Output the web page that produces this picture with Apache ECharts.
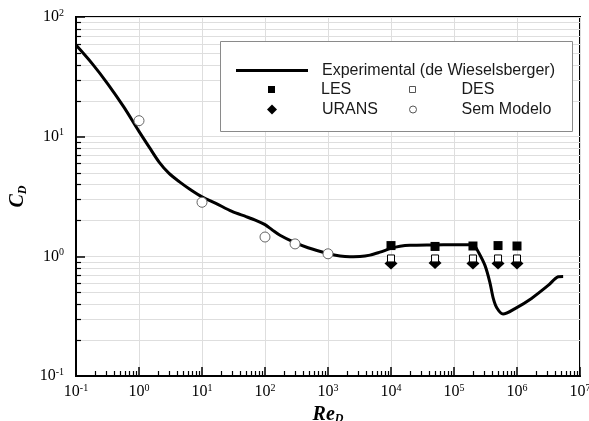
<!DOCTYPE html>
<html><head><meta charset="utf-8">
<script src="https://cdn.jsdelivr.net/npm/echarts@6/dist/echarts.min.js"></script>
<style>html,body{margin:0;padding:0;background:#fff}#c{width:589px;height:421px}</style>
</head><body><div id="c"></div>
<script>
// ---- data ----
const expRe = [0.1, 0.182, 0.323, 0.576, 1.0, 1.47, 2.1, 3.0, 4.4, 6.5, 10, 16.6, 29.9, 51, 74.6, 100, 129, 173, 282, 482, 1000, 1550, 2230, 3220, 4640, 6690, 1e4, 1.39e4, 2e4, 4.6e4, 1e5, 1.85e5, 2.1e5, 2.43e5, 3.1e5, 3.7e5, 4.2e5, 4.8e5, 6.0e5, 9.3e5, 1.7e6, 3.16e6, 4.5e6, 5.4e6];
const expCd = [58.3, 40.6, 27.4, 17.65, 11.07, 8.09, 6.10, 4.93, 4.19, 3.62, 3.14, 2.77, 2.37, 2.14, 1.98, 1.84, 1.67, 1.50, 1.32, 1.18, 1.057, 1.008, 0.994, 0.997, 1.023, 1.084, 1.165, 1.212, 1.236, 1.245, 1.25, 1.25, 1.23, 1.09, 0.84, 0.61, 0.445, 0.37, 0.33, 0.366, 0.445, 0.574, 0.675, 0.68];
const lesRe = [1e4, 5e4, 2e5, 5e5, 1e6];
const lesCd = [1.23, 1.21, 1.22, 1.23, 1.22];
const desRe = [1e4, 5e4, 2e5, 5e5, 1e6];
const desCd = [0.96, 0.96, 0.96, 0.96, 0.96];
const uransRe = [1e4, 5e4, 2e5, 5e5, 1e6];
const uransCd = [0.87, 0.88, 0.87, 0.87, 0.87];
const semRe = [1, 10, 100, 300, 1000];
const semCd = [13.6, 2.83, 1.45, 1.27, 1.05];
const xTickExp = [-1, 0, 1, 2, 3, 4, 5, 6, 7];
const yTickExp = [-1, 0, 1, 2];
const minorMantissas = [2, 3, 4, 5, 6, 7, 8, 9];
const seriesNames = ['Experimental (de Wieselsberger)', 'LES', 'URANS', 'DES', 'Sem Modelo'];

// ---- helpers ----
const zip = (a, b) => a.map((v, i) => [v, b[i]]);
const xMinor = [], yMinor = [];
xTickExp.slice(0, -1).forEach(e => minorMantissas.forEach(m => xMinor.push([m * Math.pow(10, e), 0.1])));
yTickExp.slice(0, -1).forEach(e => minorMantissas.forEach(m => yMinor.push([0.1, m * Math.pow(10, e)])));

const serif = '"Liberation Serif","DejaVu Serif",serif';
const sans = '"Liberation Sans",Arial,sans-serif';
function expLabel(list) {
  return v => {
    const e = Math.round(Math.log10(v));
    return list.includes(e) ? '{b|10}{s|' + e + '}' : '';
  };
}
const richTick = {
  b: { fontFamily: serif, fontSize: 16, color: '#000' },
  s: { fontFamily: serif, fontSize: 10, color: '#000', verticalAlign: 'top', padding: [0, 0, 8, 0] }
};

const chart = echarts.init(document.getElementById('c'), null, { renderer: 'canvas' });

function legendItem(name, left, top, icon, w, h, pad, style) {
  const d = { name: name, icon: icon };
  if (style) d.itemStyle = style;
  return {
    data: [d],
    left: left, top: top, padding: 0, itemWidth: w, itemHeight: h,
    selectedMode: false, z: 20,
    textStyle: { fontFamily: sans, fontSize: 16, color: '#1a1a1a', lineHeight: 17, padding: [0, 0, 0, pad] }
  };
}

const option = {
  backgroundColor: '#fff',
  animation: false,
  grid: { left: 76, top: 17, width: 504, height: 359, containLabel: false, outerBoundsMode: 'none',
          show: true, borderColor: '#000', borderWidth: 2, backgroundColor: 'transparent' },
  xAxis: {
    type: 'log', logBase: 10, min: 0.1, max: 1e7, interval: 1,
    name: '{a|Re}{d|D}', nameLocation: 'middle', nameGap: 25,
    nameTextStyle: { rich: {
      a: { fontFamily: serif, fontSize: 20, fontWeight: 'bold', fontStyle: 'italic', color: '#000' },
      d: { fontFamily: serif, fontSize: 12, fontWeight: 'bold', fontStyle: 'italic', color: '#000', verticalAlign: 'bottom', padding: [9, 0, 0, 0] }
    } },
    axisLine: { lineStyle: { color: '#000', width: 2 } },
    axisTick: { inside: true, length: 9, lineStyle: { color: '#000', width: 1.5 } },
    splitLine: { show: true, lineStyle: { color: '#dedede', width: 1 } },
    axisLabel: { margin: 7, formatter: expLabel(xTickExp), rich: richTick }
  },
  yAxis: {
    type: 'log', logBase: 10, min: 0.1, max: 100, interval: 1,
    name: '{c|C}{d|D}', nameLocation: 'middle', nameGap: 36, nameRotate: 90,
    nameTextStyle: { rich: {
      c: { fontFamily: serif, fontSize: 20, fontWeight: 'bold', fontStyle: 'italic', color: '#000' },
      d: { fontFamily: serif, fontSize: 12, fontWeight: 'bold', fontStyle: 'italic', color: '#000', verticalAlign: 'bottom', padding: [9, 0, 0, 0] }
    } },
    axisLine: { lineStyle: { color: '#000', width: 2 } },
    axisTick: { inside: true, length: 9, lineStyle: { color: '#000', width: 1.5 } },
    splitLine: { show: true, lineStyle: { color: '#dedede', width: 1 } },
    axisLabel: { margin: 12, formatter: expLabel(yTickExp), rich: richTick }
  },
  graphic: [{
    type: 'rect', left: 220, top: 41, z: 10,
    shape: { width: 352, height: 90 },
    style: { fill: '#fff', stroke: '#8a8a8a', lineWidth: 1 }
  }],
  legend: [
    legendItem(seriesNames[0], 236, 62, 'rect', 72, 3, 9),
    legendItem(seriesNames[1], 268, 81, 'rect', 7, 7, 41),
    legendItem(seriesNames[2], 267, 101, 'diamond', 10, 10, 40),
    legendItem(seriesNames[3], 409, 81, 'rect', 6, 6, 41, { color: '#fff', borderColor: '#555', borderWidth: 1 }),
    legendItem(seriesNames[4], 409, 101, 'circle', 7, 7, 40, { color: '#fff', borderColor: '#555', borderWidth: 1 })
  ],
  series: [
    { // minor horizontal grid lines + y minor ticks
      type: 'custom', silent: true, z: 1, data: yMinor, encode: { x: 0, y: 1 },
      renderItem: (params, api) => {
        const cs = params.coordSys;
        const y = Math.round(api.coord([0.1, api.value(1)])[1]) + 0.5;
        return { type: 'group', children: [
          { type: 'line', shape: { x1: cs.x, y1: y, x2: cs.x + cs.width, y2: y }, style: { stroke: '#dedede', lineWidth: 1 } },
          { type: 'line', shape: { x1: cs.x, y1: y, x2: cs.x + 5, y2: y }, style: { stroke: '#000', lineWidth: 1.2 } }
        ] };
      }
    },
    { // x minor ticks
      type: 'custom', silent: true, z: 1, data: xMinor, encode: { x: 0, y: 1 },
      renderItem: (params, api) => {
        const cs = params.coordSys;
        const x = Math.round(api.coord([api.value(0), 0.1])[0]) + 0.5;
        const yb = cs.y + cs.height;
        return { type: 'line', shape: { x1: x, y1: yb, x2: x, y2: yb - 5 }, style: { stroke: '#000', lineWidth: 1.2 } };
      }
    },
    { name: seriesNames[0], type: 'line', z: 3, data: zip(expRe, expCd), smooth: 0.3, symbol: 'none',
      lineStyle: { color: '#000', width: 3 }, itemStyle: { color: '#000' } },
    { name: seriesNames[1], type: 'scatter', z: 4, data: zip(lesRe, lesCd), symbol: 'rect', symbolSize: 9,
      itemStyle: { color: '#000', opacity: 1 } },
    { name: seriesNames[2], type: 'scatter', z: 4, data: zip(uransRe, uransCd), symbol: 'diamond', symbolSize: [13, 12],
      itemStyle: { color: '#000', opacity: 1 } },
    { name: seriesNames[3], type: 'scatter', z: 5, data: zip(desRe, desCd), symbol: 'rect', symbolSize: 7,
      itemStyle: { color: '#fff', borderColor: '#000', borderWidth: 1, opacity: 1 } },
    { name: seriesNames[4], type: 'scatter', z: 5, data: zip(semRe, semCd), symbol: 'circle', symbolSize: 10,
      itemStyle: { color: '#fff', borderColor: '#666', borderWidth: 1, opacity: 1 } }
  ]
};
chart.setOption(option);
</script>
</body></html>
